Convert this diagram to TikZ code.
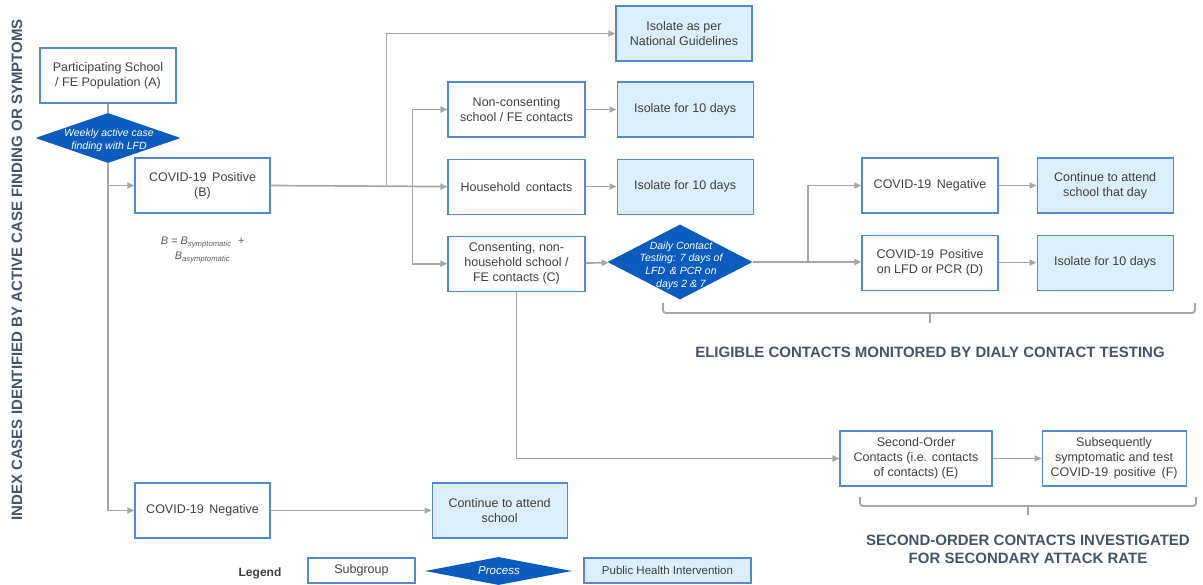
\documentclass[tikz,border=0pt]{standalone}
\usepackage{fontspec}
\setmainfont{Liberation Sans}
\usepackage{tikz}
\usetikzlibrary{shapes.geometric,arrows.meta,positioning}
\definecolor{boxblue}{HTML}{4F8AD2}
\definecolor{lightblue}{HTML}{DCEEFA}
\definecolor{procblue}{HTML}{0B5CBE}
\definecolor{linegrey}{HTML}{A6A6A6}
\definecolor{textgrey}{HTML}{404040}
\definecolor{headblue}{HTML}{44546A}

\begin{document}
\begin{tikzpicture}[
			x=1pt,y=-1pt,
			subgroup/.style={rectangle,draw=boxblue,line width=1.1pt,minimum width=136pt,minimum height=55pt,
				inner sep=2pt,align=center,text=textgrey,font=\fontsize{12.5}{15}\selectfont},
			intervention/.style={subgroup,fill=lightblue},
			process/.style={diamond,fill=procblue,inner sep=0pt},
			processtext/.style={text=white,inner sep=0pt,align=center,font=\fontsize{10.5}{12.7}\selectfont\itshape},
			flow/.style={draw=linegrey,line width=1.7pt,-{Triangle[length=7pt,width=6pt]}},
			link/.style={draw=linegrey,line width=1.7pt},
			heading/.style={text=headblue,align=center,font=\fontsize{15}{18}\selectfont\bfseries},
			]
			\useasboundingbox (0,0) rectangle (1203,585);
			% index cases
			\node [heading,rotate=90] (indextitle) at (17,270) {INDEX CASES IDENTIFIED BY ACTIVE CASE FINDING OR SYMPTOMS};
			\node [subgroup] (popA) at (108,75.5) {Participating School\\/ FE Population (A)};
			\node [process,minimum width=145pt,minimum height=50pt] (weekly) at (108,138) {};
			\node [processtext] (weeklytext) at (109,140) {Weekly active case\\finding with LFD};
			\node [subgroup,minimum width=135pt] (posB) at (202.5,185.5) {COVID-19\, Positive\\(B)};
			\node [text=textgrey!85,align=center,font=\fontsize{11}{15}\selectfont\itshape,below=20pt of posB] (eqn)
				{B = B\textsubscript{symptomatic} \ +\\ B\textsubscript{asymptomatic}};
			\node [subgroup,minimum width=135pt] (negB) at (202.5,510.5) {COVID-19\, Negative};
			\node [intervention,minimum width=135pt,right=161pt of negB] (attend) {Continue to attend\\school};
			% contacts of B
			\node [intervention] (national) at (684,33.5) {Isolate as per\\National Guidelines};
			\node [subgroup,minimum width=137pt] (noncons) at (516.5,109.5) {Non-consenting\\school / FE contacts};
			\node [subgroup,minimum width=137pt,below=21pt of noncons] (house) {Household\, contacts};
			\node [subgroup,minimum width=137pt,below=21pt of house] (consC) {Consenting, non-\\household school /\\FE contacts (C)};
			\node [intervention,right=31pt of noncons] (isoA) {Isolate for 10 days};
			\node [intervention,right=31pt of house] (isoB) {Isolate for 10 days};
			\node [process,minimum width=145pt,minimum height=75pt] (daily) at (680,262) {};
			\node [processtext,font=\fontsize{10.5}{12.6}\selectfont\itshape] (dailytext) at (681,265.5)
				{Daily Contact\\Testing: 7 days of\\LFD \,\& PCR on\\days 2 \& 7};
			% daily contact testing
			\node [subgroup] (negD) at (930,185.5) {COVID-19\, Negative};
			\node [subgroup,below=21pt of negD] (posD) {COVID-19\, Positive\\on LFD or PCR (D)};
			\node [intervention,right=38pt of negD] (attendday) {Continue to attend\\school that day};
			\node [intervention,right=38pt of posD] (isoC) {Isolate for 10 days};
			\node [heading] (eligible) at (930,352) {ELIGIBLE CONTACTS MONITORED BY DIALY CONTACT TESTING};
			% second-order contacts
			\node [subgroup,minimum width=152pt] (secE) at (916,458.5) {Second-Order\\Contacts (i.e. contacts\\of contacts) (E)};
			\node [subgroup,minimum width=144pt,right=49pt of secE] (subF) {Subsequently\\symptomatic and test\\COVID-19\, positive\, (F)};
			\node [heading] (secondtitle) at (1028,549) {SECOND-ORDER CONTACTS INVESTIGATED\\FOR SECONDARY ATTACK RATE};
			% legend
			\node [text=textgrey,font=\fontsize{12}{15}\selectfont\bfseries] (legend) at (260,573) {Legend};
			\node [subgroup,minimum width=107pt,minimum height=25pt] (legsub) at (361.5,570.5) {Subgroup};
			\node [process,minimum width=147pt,minimum height=28pt] (legproc) at (498.5,571) {};
			\node [processtext,font=\fontsize{11.5}{13}\selectfont\itshape] (legproctext) at (499,571) {Process};
			\node [intervention,minimum width=167pt,minimum height=25pt,font=\fontsize{11.5}{13}\selectfont] (legint) at (667.5,570.5) {Public Health Intervention};

			\draw[link] (popA) -- (weekly);
			\draw[flow] (weekly.south) |- (negB.west);
			\draw[flow] (weekly.south |- posB.west) -- (posB.west);
			\draw[flow] (negB) -- (attend);
			\draw[flow] (posB.east) -- (house.west);
			\draw[flow] ([xshift=116pt]posB.east) |- (national.west);
			\draw[flow] ([xshift=-35pt]house.west) |- (noncons.west);
			\draw[flow] ([xshift=-35pt]house.west) |- (consC.west);
			\draw[flow] (noncons) -- (isoA);
			\draw[flow] (house) -- (isoB);
			\draw[flow] (consC) -- (daily);
			\draw[flow] (daily.east) -- (daily.east -| posD.west);
			\draw[flow] ([xshift=55pt]daily.east) |- (negD.west);
			\draw[flow] (negD) -- (attendday);
			\draw[flow] (posD) -- (isoC);
			\draw[flow] (consC.south) |- (secE.west);
			\draw[flow] (secE) -- (subF);
			% brackets
			\draw[link,line width=1.8pt,rounded corners=3pt] (663,303) -- (663,313) -- (1195,313) -- (1195,303);
			\draw[link,line width=1.8pt] (930,313) -- (930,323);
			\draw[link,line width=1.8pt,rounded corners=3pt] (860,497) -- (860,506) -- (1196,506) -- (1196,497);
			\draw[link,line width=1.8pt] (1028,506) -- (1028,515);
		\end{tikzpicture}
\end{document}
